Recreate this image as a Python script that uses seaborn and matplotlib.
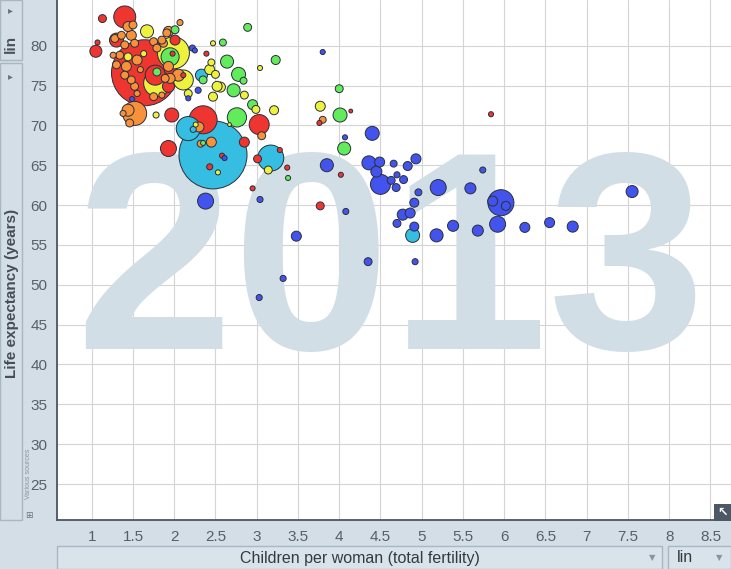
import matplotlib
matplotlib.use("Agg")
import matplotlib.pyplot as plt
import numpy as np
import pandas as pd
import seaborn as sns
from matplotlib.patches import Rectangle

# values (x = children per woman, y = life expectancy,
# pop = population in millions, estimated from bubble area)
east_asia_x = [1.40, 1.13, 1.05, 1.07, 1.30, 1.64, 1.77, 1.93, 1.97, 2.35, 1.93, 3.03, 2.85,
               2.58, 2.43, 3.01, 3.28, 3.37, 2.95, 3.77, 4.02, 4.14, 3.76, 5.84, 2.01, 1.98,
               2.39, 2.11]
east_asia_y = [83.6, 83.4, 79.3, 80.4, 80.7, 76.6, 76.3, 74.9, 71.3, 70.7, 67.1, 70.1, 67.9,
               66.2, 64.8, 65.8, 66.9, 64.7, 62.1, 59.9, 63.8, 71.8, 70.3, 71.4, 80.7, 79.0,
               79.0, 76.3]
east_asia_pop = [131, 17, 39, 7, 53, 1177, 108, 39, 53, 212, 69, 108, 27,
                 7, 10, 17, 7, 7, 7, 17, 7, 4, 7, 7, 27, 7, 7, 7]

south_asia_x = [2.47, 2.17, 3.17, 2.23, 2.33, 4.89]
south_asia_y = [66.3, 69.6, 65.9, 69.5, 76.3, 56.2]
south_asia_pop = [1250, 156, 183, 10, 39, 53]

africa_x = [4.40, 4.07, 4.36, 4.49, 4.45, 4.50, 4.63, 4.69, 4.66, 4.70, 4.78, 4.83, 4.93,
            4.96, 4.91, 4.77, 4.86, 4.70, 4.91, 5.18, 5.38, 5.20, 5.59, 5.74, 5.68, 5.96,
            5.86, 6.02, 5.92, 6.25, 4.35, 4.92, 4.08, 6.55, 6.83, 7.55, 3.85, 2.38, 3.04,
            3.48, 3.32, 3.03, 2.61, 1.49, 3.80, 2.22, 2.25, 2.29, 2.17]
africa_y = [69.0, 68.5, 65.3, 65.4, 64.2, 62.6, 63.1, 62.2, 65.2, 63.8, 63.2, 64.9, 65.8,
            61.6, 60.3, 58.8, 59.0, 57.7, 57.3, 56.2, 57.4, 62.2, 62.1, 64.4, 56.8, 60.3,
            60.5, 59.9, 57.6, 57.2, 52.9, 52.9, 59.2, 57.8, 57.3, 61.7, 65.0, 60.5, 60.7,
            56.1, 50.8, 48.4, 65.9, 73.3, 79.2, 79.7, 79.4, 74.4, 73.4]
africa_pop = [53, 7, 53, 27, 33, 108, 17, 17, 13, 10, 17, 22, 27,
              13, 22, 33, 27, 17, 22, 46, 33, 69, 33, 10, 33, 183,
              27, 22, 69, 27, 17, 10, 10, 27, 33, 39, 46, 69, 10,
              27, 10, 10, 7, 7, 7, 10, 7, 10, 7]

mena_x = [2.89, 2.59, 2.64, 2.78, 2.84, 2.72, 2.95, 3.23, 4.00, 4.01, 4.06, 2.76, 2.35,
          3.38, 1.95, 2.01, 2.35, 1.79]
mena_y = [82.3, 80.4, 78.0, 76.4, 75.6, 74.4, 72.6, 78.2, 74.6, 71.3, 67.1, 71.0, 67.8,
          63.4, 78.6, 82.0, 75.7, 76.7]
mena_pop = [17, 13, 46, 53, 13, 46, 27, 22, 17, 53, 46, 100, 7,
            7, 88, 17, 17, 17]

america_x = [1.99, 2.11, 1.79, 1.67, 2.43, 2.45, 2.52, 2.47, 2.50, 2.56, 2.85, 2.99, 3.21,
             3.77, 2.47, 3.04, 2.67, 3.14, 2.53, 2.26, 1.78, 2.17, 1.63, 1.44]
america_y = [79.1, 75.7, 75.3, 81.8, 77.0, 77.9, 74.9, 73.6, 76.4, 74.8, 73.8, 72.0, 71.9,
             72.4, 80.3, 77.2, 70.1, 64.4, 64.1, 70.1, 71.3, 74.0, 79.0, 78.6]
america_pop = [277, 108, 190, 46, 27, 13, 27, 22, 17, 27, 17, 17, 22,
               27, 7, 7, 4, 17, 7, 7, 10, 17, 10, 17]

europe_x = [1.52, 1.44, 1.46, 1.38, 1.44, 1.50, 1.36, 1.48, 1.52, 1.40, 1.34, 1.30, 1.42,
            1.40, 1.48, 1.52, 1.55, 1.59, 1.75, 1.79, 1.85, 1.91, 1.93, 1.89, 1.75, 1.85,
            1.28, 1.26, 1.55, 2.07, 1.93, 1.87, 1.95, 2.05, 2.45, 2.32, 2.30, 3.06, 3.80]
europe_y = [71.5, 71.9, 70.3, 71.5, 82.4, 82.6, 81.3, 81.3, 80.3, 80.1, 78.8, 77.6, 77.4,
            76.3, 75.7, 74.9, 74.0, 77.0, 80.5, 79.7, 80.7, 81.6, 77.4, 75.9, 73.6, 73.8,
            80.9, 78.8, 78.2, 82.9, 81.8, 80.3, 75.9, 76.3, 67.9, 67.7, 69.8, 68.7, 70.7]
europe_pop = [156, 39, 17, 10, 27, 17, 17, 27, 17, 17, 17, 17, 27,
              17, 17, 17, 10, 10, 17, 17, 17, 17, 27, 17, 17, 10,
              17, 10, 27, 10, 27, 17, 27, 39, 27, 13, 27, 17, 13]

x_ticks = [1, 1.5, 2, 2.5, 3, 3.5, 4, 4.5, 5, 5.5, 6, 6.5, 7, 7.5, 8, 8.5]
y_ticks = [25, 30, 35, 40, 45, 50, 55, 60, 65, 70, 75, 80]

region_colors = {
    "East Asia & Pacific": "#ef3530",
    "South Asia": "#35bde2",
    "Sub-Saharan Africa": "#4354ee",
    "Middle East & North Africa": "#62ec5c",
    "America": "#eef23c",
    "Europe & Central Asia": "#f7923a",
}

parts = [
    ("East Asia & Pacific", east_asia_x, east_asia_y, east_asia_pop),
    ("South Asia", south_asia_x, south_asia_y, south_asia_pop),
    ("Sub-Saharan Africa", africa_x, africa_y, africa_pop),
    ("Middle East & North Africa", mena_x, mena_y, mena_pop),
    ("America", america_x, america_y, america_pop),
    ("Europe & Central Asia", europe_x, europe_y, europe_pop),
]
df = pd.concat(
    [pd.DataFrame({"fertility": xs, "life_exp": ys, "pop": ps, "region": name})
     for name, xs, ys, ps in parts],
    ignore_index=True,
)
# big bubbles first, small ones on top
df = df.sort_values("pop", ascending=False).reset_index(drop=True)

W, H = 731, 569
BG = "#d3dee6"
TICK = "#56606b"


def fx(px):
    return px / W


def fy(py):
    return 1 - py / H


sns.set_style("white")
plt.rcParams["font.family"] = ["Liberation Sans", "DejaVu Sans"]

fig = plt.figure(figsize=(W / 100, H / 100), dpi=100, facecolor=BG)
ax = fig.add_axes([fx(57), fy(520), fx(731) - fx(57), fy(0) - fy(520)])
ax.set_facecolor("white")

ax.set_xlim(0.579, 8.749)
ax.set_ylim(20.49, 85.73)
ax.set_xticks(x_ticks)
ax.set_xticklabels([f"{t:g}" for t in x_ticks])
ax.set_yticks(y_ticks)
ax.grid(True, color="#d4d4d4", linewidth=0.8, zorder=0)
ax.set_axisbelow(True)
ax.tick_params(axis="both", colors=TICK, labelsize=11, length=4, width=0.8,
               direction="out", pad=3)
for side in ("top", "right"):
    ax.spines[side].set_visible(False)
for side in ("left", "bottom"):
    ax.spines[side].set_color("#4a5561")
    ax.spines[side].set_linewidth(1.3)

ax.text(0.494, 0.329, "2013", transform=ax.transAxes, ha="center", va="baseline",
        fontsize=204, fontweight="bold", color="#d2dee5", zorder=1)

# area of the bubble in pt^2 proportional to population
sns.scatterplot(data=df, x="fertility", y="life_exp", hue="region", size="pop",
                palette=region_colors, sizes=(0, 2400), size_norm=(0, 1250),
                edgecolor="#2a2f3a", linewidth=0.7, alpha=1, legend=False,
                ax=ax, zorder=3)
ax.set_xlabel("")
ax.set_ylabel("")

# left side controls
border = "#a9b7c2"
fig.patches.append(Rectangle((fx(0), fy(60)), fx(22), fy(0) - fy(60), transform=fig.transFigure,
                             facecolor=BG, edgecolor=border, linewidth=1))
fig.patches.append(Rectangle((fx(0), fy(520)), fx(22), fy(63) - fy(520), transform=fig.transFigure,
                             facecolor=BG, edgecolor=border, linewidth=1))
fig.text(fx(11), fy(44), "lin", rotation=90, ha="center", va="center", fontsize=11,
         fontweight="bold", color="#4a525c")
fig.text(fx(10), fy(10), "\u25b8", ha="center", va="center", fontsize=7, color="#6a7580",
         family="DejaVu Sans")
fig.text(fx(10), fy(76), "\u25b8", ha="center", va="center", fontsize=7, color="#6a7580",
         family="DejaVu Sans")
fig.text(fx(12), fy(293), "Life expectancy (years)", rotation=90, ha="center", va="center",
         fontsize=11, fontweight="bold", color="#454d57")
fig.text(fx(28), fy(474), "Various sources", rotation=90, ha="center", va="center",
         fontsize=5, color="#8a96a0")
fig.text(fx(29), fy(515), "\u229e", ha="center", va="center", fontsize=6.5, color="#6a7580",
         family="DejaVu Sans")

# bottom controls
fig.patches.append(Rectangle((fx(57), fy(569)), fx(662) - fx(57), fy(546) - fy(569),
                             transform=fig.transFigure, facecolor="#d9e3ea",
                             edgecolor=border, linewidth=1))
fig.patches.append(Rectangle((fx(668), fy(569)), fx(731) - fx(668), fy(546) - fy(569),
                             transform=fig.transFigure, facecolor="#d9e3ea",
                             edgecolor=border, linewidth=1))
fig.text(fx(360), fy(558), "Children per woman (total fertility)", ha="center", va="center",
         fontsize=11.5, color="#333a42")
fig.text(fx(652), fy(558), "\u25bc", ha="center", va="center", fontsize=6, color="#8a949e",
         family="DejaVu Sans")
fig.text(fx(685), fy(558), "lin", ha="center", va="center", fontsize=11.5, color="#333a42")
fig.text(fx(719), fy(558), "\u25bc", ha="center", va="center", fontsize=6, color="#8a949e",
         family="DejaVu Sans")

# expand icon bottom right
fig.patches.append(Rectangle((fx(714), fy(521)), fx(17), fy(504) - fy(521),
                             transform=fig.transFigure, facecolor="#4c5866", edgecolor="none"))
fig.text(fx(722.5), fy(512.5), "\u2196", ha="center", va="center", fontsize=9,
         color="white", fontweight="bold", family="DejaVu Sans")

fig.savefig("out.png", dpi=100, facecolor=BG)
